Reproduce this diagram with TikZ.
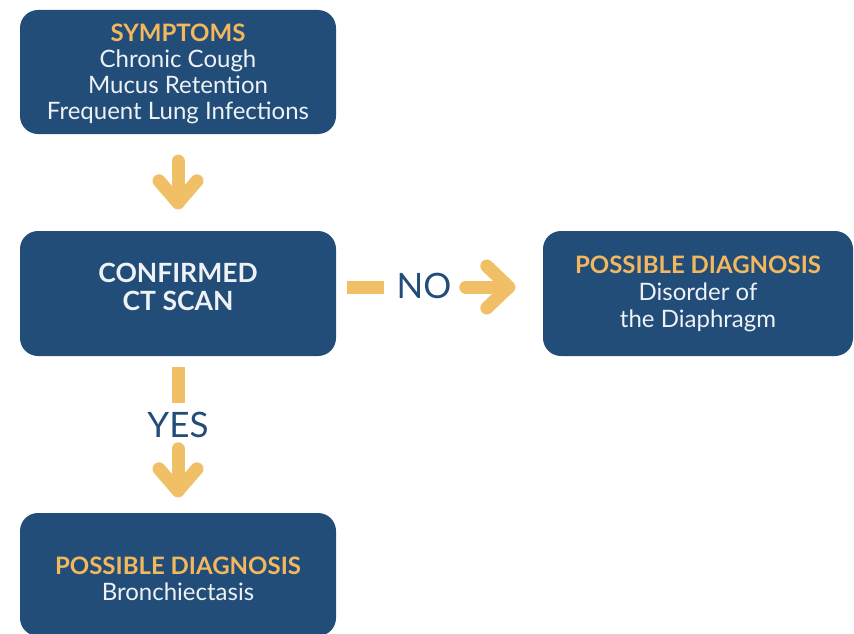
\documentclass[tikz,border=0pt]{standalone}
\usepackage{fontspec}
\setmainfont{Lato}
\usetikzlibrary{calc}
\definecolor{boxblue}{HTML}{214D78}
\definecolor{arrowyellow}{HTML}{F0BF66}
\definecolor{headyellow}{HTML}{F3B85E}
\definecolor{textwhite}{HTML}{EEF1F5}
\tikzset{
  flowbox/.style={fill=boxblue, rounded corners=18pt, minimum width=316pt, inner sep=0pt, text=textwhite, align=center, font=\fontsize{24}{26}\selectfont},
  boxtext/.style={text=textwhite, align=center, inner sep=0pt},
  arrowline/.style={draw=arrowyellow, line width=13pt, line cap=round, line join=round},
  barline/.style={draw=arrowyellow, line width=13pt, line cap=butt},
  answer/.style={text=boxblue, font=\fontsize{35}{40}\selectfont, inner sep=0pt},
}
\newcommand{\headtxt}[1]{{\bfseries\color{headyellow}#1}}
\begin{document}
\begin{tikzpicture}[x=1pt,y=1pt]
\useasboundingbox (0,0) rectangle (854,-634);
\clip (0,0) rectangle (854,-634);
\node[flowbox, minimum height=124pt] (top) at (178,-72) {};
\node[boxtext, font=\fontsize{24}{26}\selectfont] (toptext) at ($(top.center)+(0,-2)$) {\headtxt{SYMPTOMS}\\Chronic Cough\\Mucus Retention\\Frequent Lung Infections};
\node[flowbox, minimum height=125pt] (mid) at (178,-293.5) {};
\node[boxtext, font=\fontsize{26.5}{28}\bfseries\selectfont] (midtext) at ($(mid.center)+(0,7)$) {CONFIRMED\\CT SCAN};
\node[flowbox, minimum width=310pt, minimum height=125pt, font=\fontsize{24}{27}\selectfont] (right) at (698,-293.5) {\headtxt{POSSIBLE DIAGNOSIS}\\Disorder of\\the Diaphragm};
\node[flowbox, minimum height=123pt] (bot) at (178,-574.5) {};
\node[boxtext, font=\fontsize{24}{26}\selectfont] (bottext) at ($(bot.center)+(0,-4)$) {\headtxt{POSSIBLE DIAGNOSIS}\\Bronchiectasis};
% top -> mid
\draw[arrowline] ($(top.south)+(0,-27)$) -- ($(mid.north)+(0,28)$);
\draw[arrowline] ($(mid.north)+(-19,50)$) -- ($(mid.north)+(0,28)$) -- ($(mid.north)+(19,50)$);
% mid -> right (NO)
\draw[barline] ($(mid.east)+(11,6.5)$) -- ($(mid.east)+(48,6.5)$);
\node[answer] (no) at (424,-286) {NO};
\draw[arrowline] ($(right.west)+(-77,6.5)$) -- ($(right.west)+(-34,6.5)$);
\draw[arrowline] ($(right.west)+(-56,27.5)$) -- ($(right.west)+(-34,6.5)$) -- ($(right.west)+(-56,-14.5)$);
% mid -> bot (YES)
\draw[barline] ($(mid.south)+(0,-11)$) -- ($(mid.south)+(0,-47)$);
\node[answer] (yes) at (178,-425) {YES};
\draw[arrowline] ($(bot.north)+(0,64)$) -- ($(bot.north)+(0,22)$);
\draw[arrowline] ($(bot.north)+(-19,44)$) -- ($(bot.north)+(0,22)$) -- ($(bot.north)+(19,44)$);
\end{tikzpicture}
\end{document}
